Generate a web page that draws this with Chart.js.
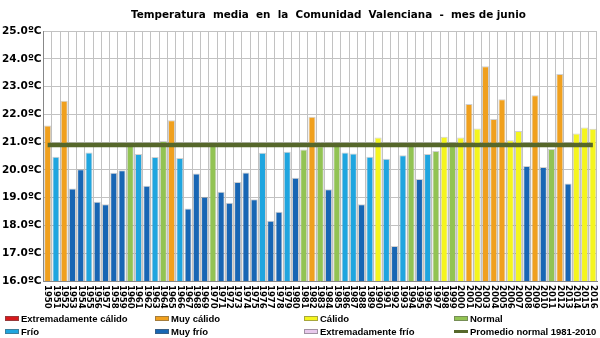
<!DOCTYPE html>
<html>
<head>
<meta charset="utf-8">
<script src="https://cdn.jsdelivr.net/npm/chart.js@4"></script>
<style>
  html, body { margin: 0; padding: 0; background: #fff; }
  #wrap { position: relative; width: 600px; height: 338px; overflow: hidden; }
  #grafico { position: absolute; left: 0; top: 0; }
  #titulo { position: absolute; left: 131px; top: 8px; font: bold 10.4px "DejaVu Sans", sans-serif; color: #000; white-space: pre; }
  .leyenda { position: absolute; font: bold 9.5px "Liberation Sans", sans-serif; color: #000; white-space: nowrap; }
  .leyenda span.sw { display: inline-block; width: 14px; height: 5px; margin-right: 2px; vertical-align: 1px; box-sizing: border-box; border: 1px solid rgba(90,90,90,0.5); }
  .leyenda span.ln { display: inline-block; width: 14px; height: 3px; margin-right: 2px; vertical-align: 2px; background: #56672a; }
</style>
</head>
<body>
<div id="wrap">
  <canvas id="grafico" width="600" height="338"></canvas>
  <div id="titulo">Temperatura  media  en  la  Comunidad  Valenciana  -  mes de junio</div>
  <div class="leyenda" style="left:5px;top:313px"><span class="sw" style="background:#d7191c"></span>Extremadamente cálido</div>
  <div class="leyenda" style="left:155px;top:313px"><span class="sw" style="background:#f0a01e"></span>Muy cálido</div>
  <div class="leyenda" style="left:304px;top:313px"><span class="sw" style="background:#f5f51e"></span>Cálido</div>
  <div class="leyenda" style="left:454px;top:313px"><span class="sw" style="background:#92c353"></span>Normal</div>
  <div class="leyenda" style="left:5px;top:326px"><span class="sw" style="background:#1fa5df"></span>Frío</div>
  <div class="leyenda" style="left:155px;top:326px"><span class="sw" style="background:#1866b4"></span>Muy frío</div>
  <div class="leyenda" style="left:304px;top:326px"><span class="sw" style="background:#e8c9ec"></span>Extremadamente frío</div>
  <div class="leyenda" style="left:454px;top:326px"><span class="ln"></span>Promedio normal 1981-2010</div>
</div>
<script>
// Años (categorías)
const anios = ["1950","1951","1952","1953","1954","1955","1956","1957","1958","1959",
  "1960","1961","1962","1963","1964","1965","1966","1967","1968","1969",
  "1970","1971","1972","1973","1974","1975","1976","1977","1978","1979",
  "1980","1981","1982","1983","1984","1985","1986","1987","1988","1989",
  "1990","1991","1992","1993","1994","1995","1996","1997","1998","1999",
  "2000","2001","2002","2003","2004","2005","2006","2007","2008","2009",
  "2010","2011","2012","2013","2014","2015","2016"];

// Temperatura media de junio (ºC)
const temperaturas = [21.6, 20.47, 22.49, 19.33, 20.02, 20.63, 18.85, 18.76, 19.9, 19.99,
  20.95, 20.57, 19.43, 20.46, 21.04, 21.79, 20.43, 18.61, 19.87, 19.03,
  20.88, 19.21, 18.82, 19.56, 19.91, 18.94, 20.62, 18.17, 18.49, 20.65,
  19.72, 20.73, 21.91, 20.85, 19.3, 20.99, 20.63, 20.59, 18.76, 20.47,
  21.17, 20.4, 17.26, 20.53, 20.87, 19.67, 20.57, 20.68, 21.19, 20.99,
  21.17, 22.37, 21.49, 23.73, 21.83, 22.54, 21.07, 21.4, 20.14, 22.69,
  20.1, 20.75, 23.45, 19.51, 21.31, 21.53, 21.48];

// Clasificación de cada año
const clases = ["MC","F","MC","MF","MF","F","MF","MF","MF","MF",
  "N","F","MF","F","N","MC","F","MF","MF","MF",
  "N","MF","MF","MF","MF","MF","F","MF","MF","F",
  "MF","N","MC","N","MF","N","F","F","MF","F",
  "C","F","MF","F","N","MF","F","N","C","N",
  "C","MC","C","MC","MC","MC","C","C","MF","MC",
  "MF","N","MC","MF","C","C","C"];

// Promedio normal 1981-2010
const promedio = 20.9;

const colores = {
  EC: "#d7191c", MC: "#f0a01e", C: "#f5f51e", N: "#92c353",
  F: "#1fa5df", MF: "#1866b4", EF: "#e8c9ec"
};

// Etiquetas del eje X giradas 90º (lectura de arriba a abajo)
const etiquetasX = {
  id: "etiquetasX",
  afterDraw(chart) {
    const ctx = chart.ctx;
    const x = chart.scales.x;
    ctx.save();
    ctx.font = "bold 8.5px 'DejaVu Sans'";
    ctx.fillStyle = "#000";
    ctx.textAlign = "left";
    ctx.textBaseline = "middle";
    anios.forEach((a, i) => {
      ctx.save();
      ctx.translate(x.getPixelForValue(i), chart.chartArea.bottom + 4);
      ctx.rotate(Math.PI / 2);
      ctx.fillText(a, 0, 0);
      ctx.restore();
    });
    ctx.restore();
  }
};

new Chart(document.getElementById("grafico"), {
  type: "bar",
  data: {
    labels: anios,
    datasets: [
      {
        type: "line",
        data: anios.map(() => promedio),
        borderColor: "#56672a",
        borderWidth: 4.5,
        pointRadius: 0,
        order: 0
      },
      {
        data: temperaturas,
        backgroundColor: clases.map(c => colores[c]),
        borderColor: "rgba(120,120,120,0.35)",
        borderWidth: 1,
        barPercentage: 0.86,
        categoryPercentage: 1,
        order: 1
      }
    ]
  },
  options: {
    responsive: false,
    animation: false,
    layout: { padding: { left: 0, right: 3, bottom: 57, top: 31 } },
    plugins: {
      legend: { display: false },
      tooltip: { enabled: false },
      title: { display: false }
    },
    scales: {
      x: {
        ticks: { display: false },
        grid: { color: "#c2c2c2", offset: true, drawTicks: false },
        border: { color: "#888" }
      },
      y: {
        min: 16,
        max: 25,
        ticks: {
          stepSize: 1,
          padding: 2,
          color: "#000",
          font: { family: "'DejaVu Sans'", size: 10.5, weight: "bold" },
          callback: v => v.toFixed(1) + "ºC"
        },
        grid: { color: "#c2c2c2", drawTicks: false },
        border: { color: "#888" }
      }
    }
  },
  plugins: [etiquetasX]
});
</script>
</body>
</html>
